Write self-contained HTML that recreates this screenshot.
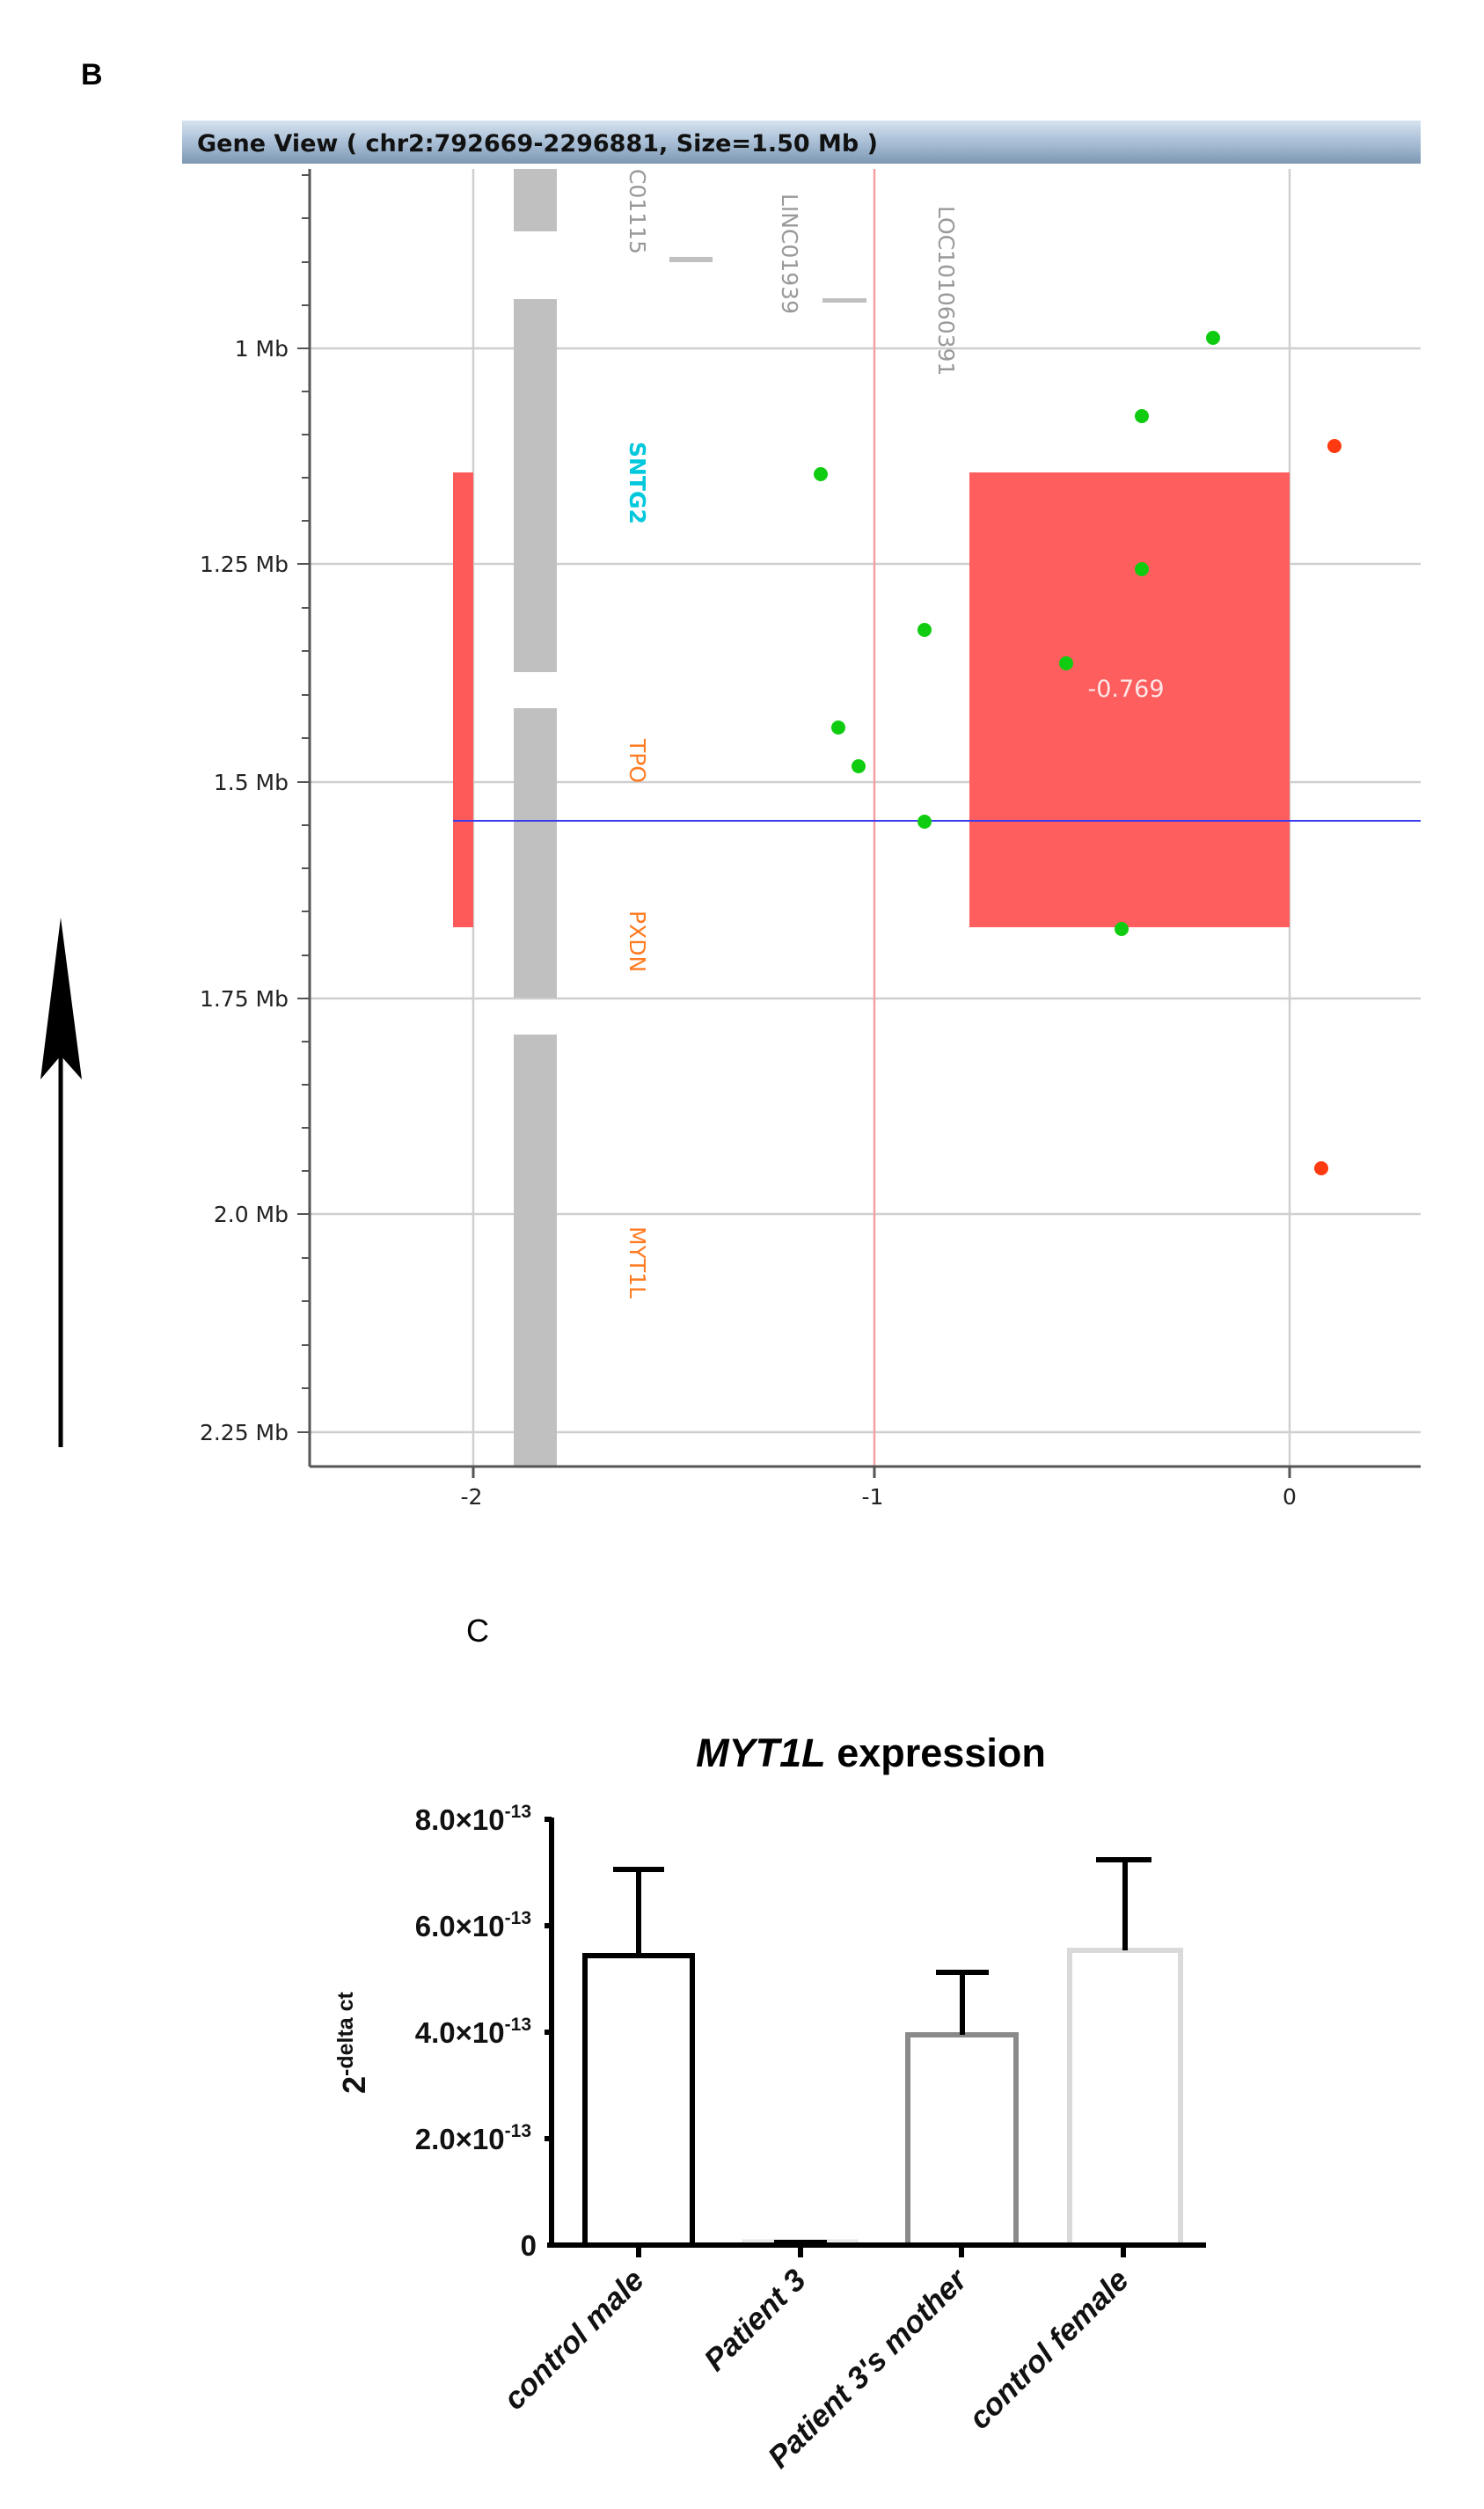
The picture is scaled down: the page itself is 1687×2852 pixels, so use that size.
<!DOCTYPE html>
<html><head><meta charset="utf-8"><style>
html,body{margin:0;padding:0;background:#fff}
svg{display:block}
</style></head><body>
<svg width="1687" height="2852" viewBox="0 0 1687 2852" xmlns="http://www.w3.org/2000/svg">
<defs>
<linearGradient id="hb" x1="0" y1="0" x2="0" y2="1">
<stop offset="0" stop-color="#d6e2ef"/><stop offset="0.5" stop-color="#a9bfd6"/><stop offset="1" stop-color="#7d97b3"/>
</linearGradient>
</defs>
<text x="92" y="96" font-family="Liberation Sans, sans-serif" font-weight="bold" font-size="34">B</text>
<rect x="207" y="137" width="1408" height="49" fill="url(#hb)"/>
<text x="224" y="172" font-family="DejaVu Sans, sans-serif" font-weight="bold" font-size="27" fill="#111">Gene View ( chr2:792669-2296881, Size=1.50 Mb )</text>
<g stroke="#cfcfcf" stroke-width="2.5">
<line x1="538" y1="192" x2="538" y2="1667"/><line x1="1466" y1="192" x2="1466" y2="1667"/>
<line x1="352" y1="396" x2="1615" y2="396"/><line x1="352" y1="641" x2="1615" y2="641"/>
<line x1="352" y1="889" x2="1615" y2="889"/><line x1="352" y1="1135" x2="1615" y2="1135"/>
<line x1="352" y1="1380" x2="1615" y2="1380"/><line x1="352" y1="1628" x2="1615" y2="1628"/>
</g>
<g fill="#c0c0c0">
<rect x="584" y="192" width="49" height="71"/><rect x="584" y="340" width="49" height="424"/>
<rect x="584" y="805" width="49" height="329"/><rect x="584" y="1176" width="49" height="491"/>
<rect x="761" y="292" width="49" height="6"/><rect x="935" y="339" width="50" height="5"/>
</g>
<rect x="515" y="537" width="23" height="517" fill="#ff5a5a"/>
<rect x="1102" y="537" width="364" height="517" fill="#ff5e5e"/>
<line x1="994" y1="192" x2="994" y2="1667" stroke="#f5a0a0" stroke-width="2.5"/>
<line x1="515" y1="933" x2="1615" y2="933" stroke="#3a3af0" stroke-width="2"/>
<text x="1280" y="792" text-anchor="middle" font-family="DejaVu Sans, sans-serif" font-size="27" fill="#ffe6e6">-0.769</text>
<g font-family="DejaVu Sans, sans-serif" font-size="25">
<text transform="translate(716,502) rotate(90)" fill="#00c8dc" font-weight="bold">SNTG2</text>
<text transform="translate(716,840) rotate(90)" fill="#ff7a20">TPO</text>
<text transform="translate(716,1035) rotate(90)" fill="#ff7a20">PXDN</text>
<text transform="translate(716,1394) rotate(90)" fill="#ff7a20">MYT1L</text>
<text transform="translate(716,192) rotate(90)" fill="#999">C01115</text>
<text transform="translate(889,220) rotate(90)" fill="#999">LINC01939</text>
<text transform="translate(1067,234) rotate(90)" fill="#999">LOC101060391</text>
</g>
<g fill="#10cc10">
<circle cx="1379" cy="384" r="8"/><circle cx="1298" cy="473" r="8"/><circle cx="933" cy="539" r="8"/>
<circle cx="1298" cy="647" r="8"/><circle cx="1051" cy="716" r="8"/><circle cx="1212" cy="754" r="8"/>
<circle cx="953" cy="827" r="8"/><circle cx="976" cy="871" r="8"/><circle cx="1051" cy="934" r="8"/>
<circle cx="1275" cy="1056" r="8"/>
</g>
<g fill="#ff3a10"><circle cx="1517" cy="507" r="8"/><circle cx="1502" cy="1328" r="8"/></g>
<g stroke="#555" stroke-width="3">
<line x1="352" y1="192" x2="352" y2="1667"/><line x1="352" y1="1667" x2="1615" y2="1667"/>
<line x1="538" y1="1667" x2="538" y2="1680"/><line x1="994" y1="1667" x2="994" y2="1680"/><line x1="1466" y1="1667" x2="1466" y2="1680"/>
</g>
<g stroke="#555" stroke-width="2">
<line x1="343" y1="199" x2="352" y2="199"/><line x1="343" y1="248" x2="352" y2="248"/><line x1="343" y1="298" x2="352" y2="298"/><line x1="343" y1="347" x2="352" y2="347"/>
<line x1="338" y1="396" x2="352" y2="396"/><line x1="343" y1="445" x2="352" y2="445"/><line x1="343" y1="494" x2="352" y2="494"/><line x1="343" y1="543" x2="352" y2="543"/><line x1="343" y1="592" x2="352" y2="592"/>
<line x1="338" y1="641" x2="352" y2="641"/><line x1="343" y1="691" x2="352" y2="691"/><line x1="343" y1="740" x2="352" y2="740"/><line x1="343" y1="790" x2="352" y2="790"/><line x1="343" y1="839" x2="352" y2="839"/>
<line x1="338" y1="889" x2="352" y2="889"/><line x1="343" y1="938" x2="352" y2="938"/><line x1="343" y1="987" x2="352" y2="987"/><line x1="343" y1="1036" x2="352" y2="1036"/><line x1="343" y1="1086" x2="352" y2="1086"/>
<line x1="338" y1="1135" x2="352" y2="1135"/><line x1="343" y1="1184" x2="352" y2="1184"/><line x1="343" y1="1233" x2="352" y2="1233"/><line x1="343" y1="1282" x2="352" y2="1282"/><line x1="343" y1="1331" x2="352" y2="1331"/>
<line x1="338" y1="1380" x2="352" y2="1380"/><line x1="343" y1="1430" x2="352" y2="1430"/><line x1="343" y1="1479" x2="352" y2="1479"/><line x1="343" y1="1529" x2="352" y2="1529"/><line x1="343" y1="1578" x2="352" y2="1578"/>
<line x1="338" y1="1628" x2="352" y2="1628"/>
</g>
<g font-family="DejaVu Sans, sans-serif" font-size="25" fill="#222" text-anchor="end">
<text x="328" y="405">1 Mb</text><text x="328" y="650">1.25 Mb</text><text x="328" y="898">1.5 Mb</text>
<text x="328" y="1144">1.75 Mb</text><text x="328" y="1389">2.0 Mb</text><text x="328" y="1637">2.25 Mb</text>
</g>
<g font-family="DejaVu Sans, sans-serif" font-size="25" fill="#222" text-anchor="middle">
<text x="536" y="1710">-2</text><text x="992" y="1710">-1</text><text x="1466" y="1710">0</text>
</g>
<line x1="69" y1="1645" x2="69" y2="1110" stroke="#000" stroke-width="5"/>
<path d="M69 1043 L93 1227 L69 1200 L46 1227 Z" fill="#000"/>

<text x="530" y="1866" font-family="Liberation Sans, sans-serif" font-size="36">C</text>
<text x="990" y="2008" text-anchor="middle" font-family="Liberation Sans, sans-serif" font-weight="bold" font-size="45"><tspan font-style="italic">MYT1L</tspan> expression</text>
<g stroke-width="6" fill="none">
<rect x="665" y="2223" width="122" height="329" stroke="#000"/>
<rect x="845" y="2547" width="129" height="5" stroke="#e6e6e6" stroke-width="3"/>
<rect x="1032" y="2313" width="123" height="239" stroke="#8a8a8a"/>
<rect x="1216" y="2217" width="126" height="335" stroke="#dadada"/>
</g>
<g stroke="#000" stroke-width="6">
<line x1="726" y1="2223" x2="726" y2="2125"/><line x1="697" y1="2125" x2="755" y2="2125"/>
<line x1="1094" y1="2313" x2="1094" y2="2242"/><line x1="1064" y1="2242" x2="1124" y2="2242"/>
<line x1="1279" y1="2217" x2="1279" y2="2114"/><line x1="1246" y1="2114" x2="1309" y2="2114"/>
<line x1="880" y1="2549" x2="940" y2="2549"/>
<line x1="627" y1="2066" x2="627" y2="2553"/><line x1="622" y1="2552" x2="1371" y2="2552"/>
<line x1="619" y1="2068" x2="627" y2="2068"/><line x1="619" y1="2189" x2="627" y2="2189"/><line x1="619" y1="2310" x2="627" y2="2310"/><line x1="619" y1="2431" x2="627" y2="2431"/>
<line x1="726" y1="2552" x2="726" y2="2566"/><line x1="910" y1="2552" x2="910" y2="2566"/><line x1="1093" y1="2552" x2="1093" y2="2566"/><line x1="1277" y1="2552" x2="1277" y2="2566"/>
</g>
<g font-family="Liberation Sans, sans-serif" font-weight="bold" font-size="33" fill="#111" text-anchor="end">
<text x="604" y="2080">8.0×10<tspan font-size="21" dy="-14">-13</tspan></text>
<text x="604" y="2201">6.0×10<tspan font-size="21" dy="-14">-13</tspan></text>
<text x="604" y="2322">4.0×10<tspan font-size="21" dy="-14">-13</tspan></text>
<text x="604" y="2443">2.0×10<tspan font-size="21" dy="-14">-13</tspan></text>
<text x="610" y="2564">0</text>
</g>
<text transform="translate(415,2380) rotate(-90)" font-family="Liberation Sans, sans-serif" font-weight="bold" font-size="36" fill="#111">2<tspan font-size="25" dy="-14">-delta ct</tspan></text>
<g font-family="Liberation Sans, sans-serif" font-weight="bold" font-style="italic" font-size="35" fill="#111" text-anchor="end">
<text transform="translate(734,2594) rotate(-45)">control male</text>
<text transform="translate(918,2594) rotate(-45)">Patient 3</text>
<text transform="translate(1101,2594) rotate(-45)">Patient 3's mother</text>
<text transform="translate(1285,2594) rotate(-45)">control female</text>
</g>
</svg>
</body></html>
